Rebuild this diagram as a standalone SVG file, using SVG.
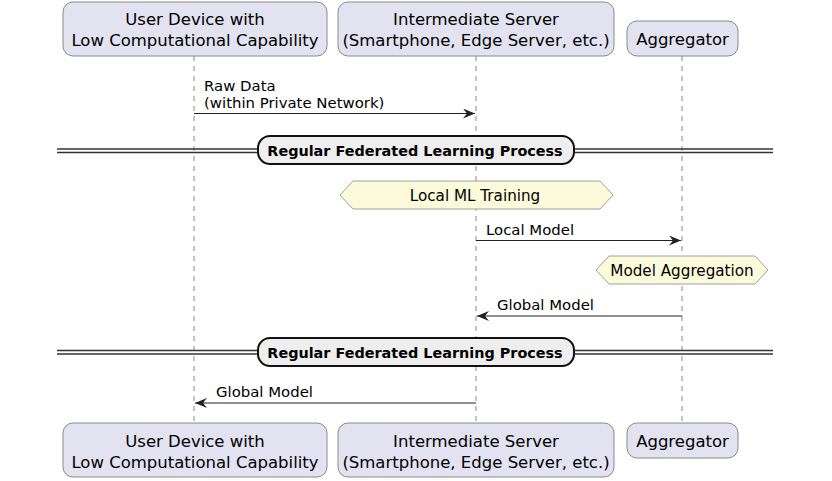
<svg xmlns="http://www.w3.org/2000/svg" width="832" height="481" viewBox="0 0 832 481">
<defs>
<style>
.part{fill:#E2E2F0;stroke:#8a8a8a;stroke-width:1}
.ptxt{font-family:"DejaVu Sans",sans-serif;font-size:16.5px;fill:#000;text-anchor:middle}
.life{stroke:#8a8a8a;stroke-width:1;stroke-dasharray:5,5;fill:none}
.msg{stroke:#222;stroke-width:1.2;fill:none;marker-end:url(#ah)}
.mtxt{font-family:"DejaVu Sans",sans-serif;font-size:14.9px;fill:#000}
.hex{fill:#FBFBDC;stroke:#a0a0a0;stroke-width:1}
.htxt{font-family:"DejaVu Sans",sans-serif;font-size:15.2px;fill:#000;text-anchor:middle}
.dl{stroke:#333;stroke-width:1.3}
.dbox{fill:#EEEEEE;stroke:#111;stroke-width:2}
.dtxt{font-family:"DejaVu Sans",sans-serif;font-size:14.4px;font-weight:bold;fill:#000;text-anchor:middle}
</style>
<marker id="ah" viewBox="0 0 12 10" refX="12" refY="5" markerWidth="12" markerHeight="10" markerUnits="userSpaceOnUse" orient="auto">
<path d="M0,0 L12,5 L0,10 L4,5 Z" fill="#222"/>
</marker>
</defs>
<rect width="832" height="481" fill="#fff"/>

<g id="lifelines">
<line class="life" x1="194" y1="56" x2="194" y2="423"/>
<line class="life" x1="476" y1="56" x2="476" y2="423"/>
<line class="life" x1="682" y1="56" x2="682" y2="423"/>
</g>

<g id="participant-user-top">
<rect class="part" x="63" y="2" width="264" height="54" rx="10"/>
<text class="ptxt" x="195" y="25">User Device with</text>
<text class="ptxt" x="195" y="46">Low Computational Capability</text>
</g>
<g id="participant-server-top">
<rect class="part" x="338" y="2" width="276" height="54" rx="10"/>
<text class="ptxt" x="476" y="25">Intermediate Server</text>
<text class="ptxt" x="476" y="46">(Smartphone, Edge Server, etc.)</text>
</g>
<g id="participant-aggregator-top">
<rect class="part" x="627" y="21" width="111" height="35" rx="10"/>
<text class="ptxt" x="682.5" y="45">Aggregator</text>
</g>

<g id="participant-user-bottom">
<rect class="part" x="63" y="423" width="264" height="54" rx="10"/>
<text class="ptxt" x="195" y="447">User Device with</text>
<text class="ptxt" x="195" y="468">Low Computational Capability</text>
</g>
<g id="participant-server-bottom">
<rect class="part" x="338" y="423" width="276" height="54" rx="10"/>
<text class="ptxt" x="476" y="447">Intermediate Server</text>
<text class="ptxt" x="476" y="468">(Smartphone, Edge Server, etc.)</text>
</g>
<g id="participant-aggregator-bottom">
<rect class="part" x="627" y="423" width="111" height="35" rx="10"/>
<text class="ptxt" x="682.5" y="447">Aggregator</text>
</g>

<g id="divider-1">
<line class="dl" x1="57" y1="149" x2="773" y2="149"/>
<line class="dl" x1="57" y1="152.5" x2="773" y2="152.5"/>
<rect class="dbox" x="258" y="136" width="316" height="28" rx="12"/>
<text class="dtxt" x="415" y="155.5">Regular Federated Learning Process</text>
</g>
<g id="divider-2">
<line class="dl" x1="57" y1="350.5" x2="773" y2="350.5"/>
<line class="dl" x1="57" y1="354" x2="773" y2="354"/>
<rect class="dbox" x="258" y="338" width="316" height="28" rx="12"/>
<text class="dtxt" x="415" y="357.5">Regular Federated Learning Process</text>
</g>

<g id="note-local-training">
<polygon class="hex" points="340,195 353,181 600,181 613,195 600,209 353,209"/>
<text class="htxt" x="475" y="200.5">Local ML Training</text>
</g>
<g id="note-model-aggregation">
<polygon class="hex" points="596,270 609,256 755,256 768,270 755,284 609,284"/>
<text class="htxt" x="682" y="275.5">Model Aggregation</text>
</g>

<g id="connectors">
<line class="msg" x1="194" y1="113.5" x2="475" y2="113.5"/>
<text class="mtxt" x="204" y="91">Raw Data</text>
<text class="mtxt" x="204" y="108">(within Private Network)</text>

<line class="msg" x1="476" y1="240.5" x2="681" y2="240.5"/>
<text class="mtxt" x="486" y="235">Local Model</text>

<line class="msg" x1="682" y1="316" x2="477" y2="316"/>
<text class="mtxt" x="497" y="309.5">Global Model</text>

<line class="msg" x1="476" y1="403" x2="195" y2="403"/>
<text class="mtxt" x="216" y="396.5">Global Model</text>
</g>
</svg>
